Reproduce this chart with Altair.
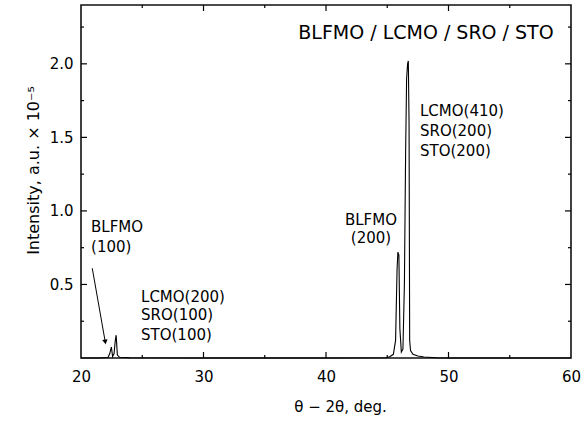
import altair as alt
import pandas as pd

# ---- data ----
two_theta = [20.0, 21.5, 22.2, 22.35, 22.48, 22.58, 22.7, 22.8, 22.87, 22.97, 23.15, 24.0,
             30.0, 40.0, 44.9, 45.2, 45.5, 45.68, 45.8, 45.87, 45.95, 46.03, 46.15, 46.28,
             46.4, 46.5, 46.58, 46.66, 46.72, 46.78, 46.83, 46.9, 47.1, 47.5, 48.0, 49.0, 50.0, 60.0]
intensity = [0.0, 0.0, 0.003, 0.03, 0.075, 0.01, 0.03, 0.12, 0.155, 0.02, 0.005, 0.002,
             0.0, 0.0, 0.002, 0.008, 0.025, 0.12, 0.6, 0.72, 0.70, 0.2, 0.04, 0.06,
             0.5, 1.4, 1.9, 2.0, 2.02, 1.6, 0.12, 0.05, 0.025, 0.014, 0.007, 0.002, 0.0, 0.0]

ann_text = ["BLFMO", "(100)", "LCMO(200)", "SRO(100)", "STO(100)",
            "BLFMO", "(200)", "LCMO(410)", "SRO(200)", "STO(200)"]
ann_x = [20.82, 20.82, 24.9, 24.9, 24.9, 43.67, 43.67, 47.67, 47.67, 47.67]
ann_y = [0.888, 0.752, 0.418, 0.289, 0.153, 0.939, 0.816, 1.68, 1.544, 1.408]
ann_align = ["left", "left", "left", "left", "left",
             "center", "center", "left", "left", "left"]

title_text = ["BLFMO / LCMO / SRO / STO"]
title_x = [48.16]
title_y = [2.21]

arrow_x = [20.92, 21.98]
arrow_y = [0.61, 0.109]

x_major = [30, 40, 50]
x_minor = [25, 35, 45, 55]
y_major = [0.5, 1.0, 1.5, 2.0]
y_minor = [0.25, 0.75, 1.25, 1.75, 2.25]

W, H = 490, 353
FONT = "DejaVu Sans"

xs = alt.Scale(domain=[20, 60], nice=False, zero=False)
ys = alt.Scale(domain=[0, 2.4], nice=False, zero=False)

x_axis = alt.Axis(values=[20, 30, 40, 50, 60], ticks=False, tickSize=0, domain=False,
                  grid=False, labelPadding=11, labelFontSize=15, labelFont=FONT,
                  labelColor="black", titleFont=FONT, titleFontSize=15,
                  titleFontWeight="normal", titleColor="black", titlePadding=15,
                  titleX=259, labelFlush=False)
y_axis = alt.Axis(values=[0.5, 1.0, 1.5, 2.0], format=".1f", ticks=False, tickSize=0,
                  domain=False, grid=False, labelPadding=8, labelFontSize=15,
                  labelFont=FONT, labelColor="black", titleFont=FONT,
                  titleFontSize=16, titleFontWeight="normal", titleColor="black",
                  titlePadding=8, titleY=165, labelFlush=False)
X_TITLE = "θ − 2θ, deg."
Y_TITLE = "Intensity, a.u. × 10⁻⁵"


def X():
    return alt.X("x:Q", scale=xs, title=X_TITLE, axis=x_axis)


def Y():
    return alt.Y("y:Q", scale=ys, title=Y_TITLE, axis=y_axis)


df = pd.DataFrame({"x": two_theta, "y": intensity})
line = alt.Chart(df).mark_line(color="black", strokeWidth=1.1).encode(x=X(), y=Y())

ann_df = pd.DataFrame({"x": ann_x, "y": ann_y, "t": ann_text, "a": ann_align})
ann_left = alt.Chart(ann_df[ann_df.a == "left"]).mark_text(
    align="left", baseline="middle", font=FONT, fontSize=15, color="black").encode(
    x=X(), y=Y(), text="t:N")
ann_center = alt.Chart(ann_df[ann_df.a == "center"]).mark_text(
    align="center", baseline="middle", font=FONT, fontSize=15, color="black").encode(
    x=X(), y=Y(), text="t:N")

title_df = pd.DataFrame({"x": title_x, "y": title_y, "t": title_text})
title = alt.Chart(title_df).mark_text(
    align="center", baseline="middle", font=FONT, fontSize=19, color="black").encode(
    x=X(), y=Y(), text="t:N")

arrow_df = pd.DataFrame({"x": arrow_x, "y": arrow_y})
arrow_line = alt.Chart(arrow_df).mark_line(color="black", strokeWidth=1).encode(x=X(), y=Y())
arrow_head = alt.Chart(arrow_df.iloc[[1]]).mark_point(
    shape="triangle-down", filled=True, color="black", size=30, angle=350, opacity=1).encode(
    x=X(), y=Y())


def xticks(vals, length):
    d = pd.DataFrame({"x": vals})
    bottom = alt.Chart(d).mark_rule(color="black", strokeWidth=1.2).encode(
        x=X(), y=alt.value(H), y2=alt.value(H - length))
    top = alt.Chart(d).mark_rule(color="black", strokeWidth=1.2).encode(
        x=X(), y=alt.value(0), y2=alt.value(length))
    return [bottom, top]


def yticks(vals, length):
    d = pd.DataFrame({"y": vals})
    left = alt.Chart(d).mark_rule(color="black", strokeWidth=1.2).encode(
        y=Y(), x=alt.value(0), x2=alt.value(length))
    right = alt.Chart(d).mark_rule(color="black", strokeWidth=1.2).encode(
        y=Y(), x=alt.value(W), x2=alt.value(W - length))
    return [left, right]


tick_layers = xticks(x_major, 6) + xticks(x_minor, 3) + yticks(y_major, 6) + yticks(y_minor, 3)

chart = alt.layer(line, *tick_layers, ann_left, ann_center, title, arrow_line, arrow_head).properties(
    width=W, height=H,
    autosize=alt.AutoSizeParams(type="none"),
    padding={"left": 81, "top": 5, "right": 13, "bottom": 66},
    background="white",
).configure_view(stroke="#111", strokeWidth=1.6)

chart.save("out.html", embed_options={"renderer": "svg", "actions": False})
